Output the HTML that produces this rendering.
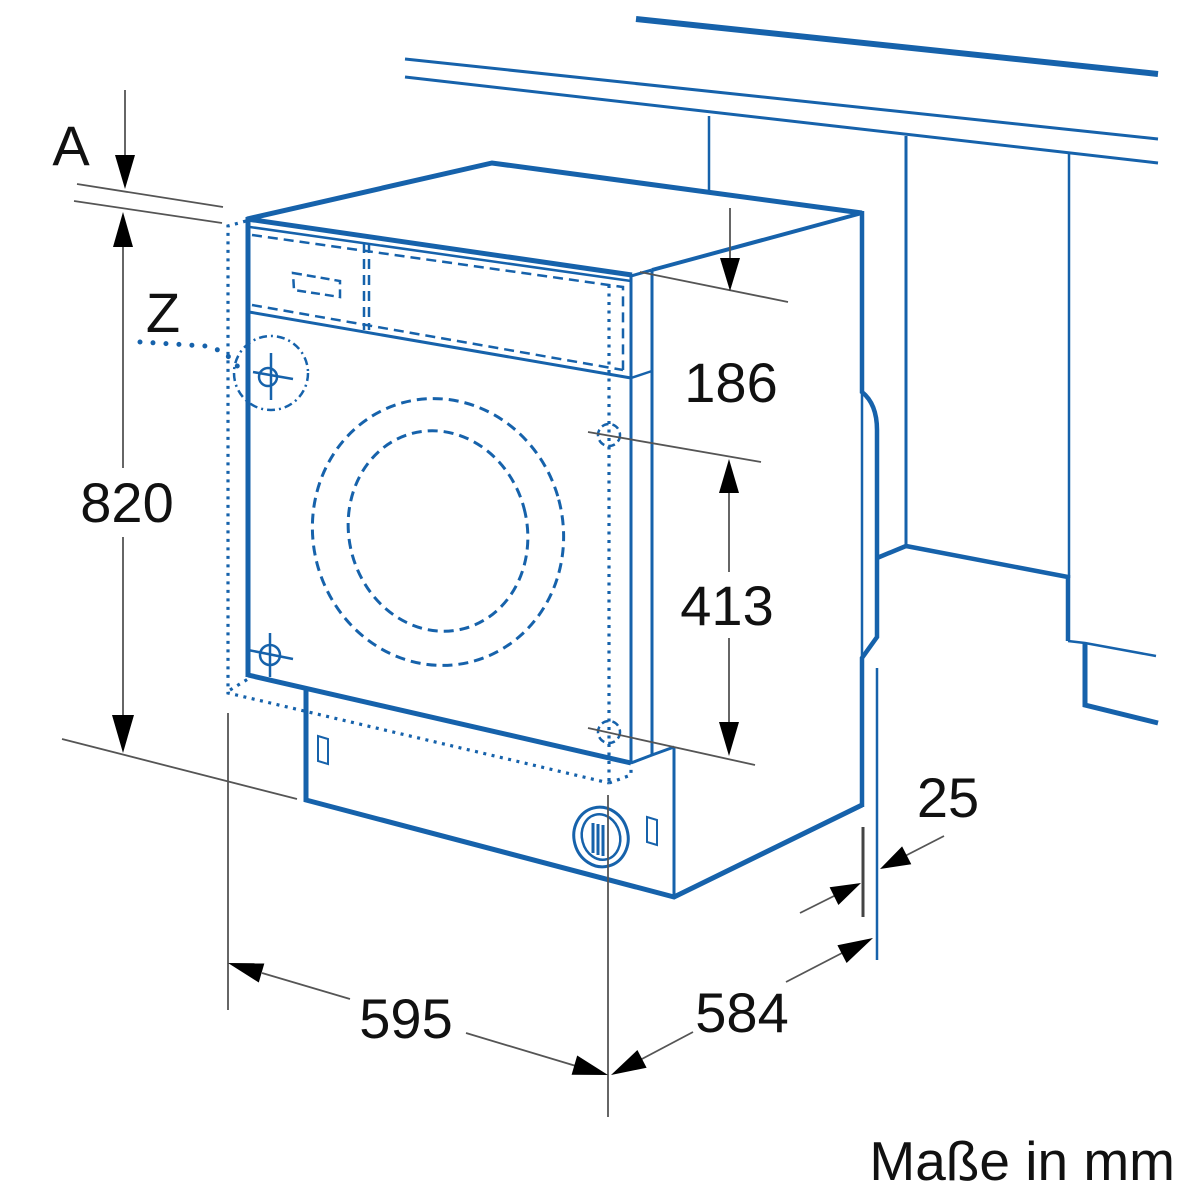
<!DOCTYPE html>
<html><head><meta charset="utf-8"><style>
html,body{margin:0;padding:0;background:#fff;}
svg{display:block;}
text{font-family:"Liberation Sans",Arial,sans-serif;fill:#111;}
</style></head><body>
<svg width="1200" height="1200" viewBox="0 0 1200 1200" xmlns="http://www.w3.org/2000/svg">
<rect width="1200" height="1200" fill="#fff"/>
<g fill="none" stroke="#1662ab" stroke-linejoin="miter" stroke-linecap="butt">
  <!-- top rails -->
  <line x1="636" y1="19" x2="1158" y2="74" stroke-width="6"/>
  <line x1="405" y1="59" x2="1158" y2="139" stroke-width="3"/>
  <line x1="405" y1="77" x2="1158" y2="163" stroke-width="3"/>
  <line x1="709" y1="116" x2="709" y2="192" stroke-width="2.5"/>
  <line x1="906" y1="136" x2="906" y2="547" stroke-width="3"/>
  <line x1="1069" y1="154" x2="1069" y2="578" stroke-width="2.5"/>
  <!-- right niche structure -->
  <polyline points="877,558 906,546 1068,577 1068,641" stroke-width="4.5"/>
  <polyline points="1068,641 1085,643 1156,656" stroke-width="2.5"/>
  <polyline points="1085,643 1085,705 1158,723" stroke-width="5"/>
  <line x1="877" y1="668" x2="877" y2="960" stroke-width="2.5"/>

  <!-- machine outline -->
  <polyline points="247,219 492,163 862,213" stroke-width="5"/>
  <line x1="862" y1="213" x2="652" y2="270" stroke-width="4"/>
  <line x1="652" y1="270" x2="631" y2="276" stroke-width="3"/>
  <line x1="247" y1="219" x2="632" y2="275" stroke-width="5"/>
  <line x1="250" y1="227" x2="631" y2="281" stroke-width="2.5"/>
  <path d="M862,211 L862,392 Q877,404 877,430 L877,637 L862,658 L862,807" stroke-width="4.5"/>
  <line x1="862" y1="392" x2="862" y2="658" stroke-width="2.5"/>
  <polyline points="862,805 674,897 306,800 306,688" stroke-width="5"/>
  <line x1="674" y1="747" x2="674" y2="897" stroke-width="3"/>
  <line x1="248" y1="217" x2="248" y2="677" stroke-width="5"/>
  <line x1="248" y1="675" x2="631" y2="763" stroke-width="5"/>
  <line x1="631" y1="276" x2="631" y2="764" stroke-width="3"/>
  <line x1="652" y1="270" x2="652" y2="755" stroke-width="3"/>
  <polyline points="631,763 652,755 674,747" stroke-width="3"/>
  <line x1="249" y1="312" x2="631" y2="378" stroke-width="3"/>
  <line x1="631" y1="378" x2="652" y2="371" stroke-width="2.5"/>

  <!-- dashed control panel -->
  <g stroke-width="2.5" stroke-dasharray="10 6">
    <polyline points="252,235 623,287 623,370"/>
    <line x1="252" y1="305" x2="623" y2="370"/>
    <line x1="364" y1="243" x2="364" y2="330"/>
    <line x1="369" y1="243" x2="369" y2="330"/>
    <polygon points="293,273 340,281 340,297 294,290" stroke-dasharray="9 5"/>
  </g>

  <!-- dotted niche outline -->
  <g stroke-width="3.2" stroke-dasharray="3 5.5">
    <polyline points="246,221 228,226 228,693 609,783"/>
    <line x1="230" y1="690" x2="248" y2="679"/>
    <line x1="609" y1="285" x2="609" y2="783"/>
    <polyline points="609,783 631,775 631,765"/>
  </g>

  <!-- door circles -->
  <ellipse cx="438" cy="532" rx="125" ry="134" transform="rotate(-15 438 532)" stroke-width="3" stroke-dasharray="10 6"/>
  <ellipse cx="438" cy="531" rx="89" ry="101" transform="rotate(-15 438 531)" stroke-width="3" stroke-dasharray="10 6"/>

  <!-- crosshairs -->
  <circle cx="271" cy="373" r="37" stroke-width="2.5" stroke-dasharray="8 4 2 4"/>
  <circle cx="268" cy="377" r="9" stroke-width="2.5"/>
  <line x1="253" y1="372" x2="293" y2="379" stroke-width="2.5"/>
  <line x1="271" y1="353" x2="271" y2="400" stroke-width="2.5"/>
  <circle cx="270" cy="655" r="10" stroke-width="2.5"/>
  <line x1="248" y1="650" x2="293" y2="659" stroke-width="2.5"/>
  <line x1="270" y1="633" x2="270" y2="677" stroke-width="2.5"/>
  <circle cx="609" cy="435" r="11" stroke-width="2.5" stroke-dasharray="7 4"/>
  <circle cx="609" cy="732" r="11" stroke-width="2.5" stroke-dasharray="7 4"/>

  <!-- base connector & slots -->
  <ellipse cx="601" cy="837" rx="27" ry="30" transform="rotate(-15 601 837)" stroke-width="3"/>
  <ellipse cx="601" cy="837" rx="19" ry="23" transform="rotate(-15 601 837)" stroke-width="2.5"/>
  <line x1="593" y1="823" x2="593" y2="853" stroke-width="3"/>
  <line x1="598" y1="824" x2="598" y2="855" stroke-width="3"/>
  <line x1="603" y1="825" x2="603" y2="856" stroke-width="3"/>
  <polygon points="318,736 328,739 328,764 318,761" stroke-width="2"/>
  <polygon points="647,817 657,820 657,845 647,842" stroke-width="2"/>

  <!-- Z leader -->
  <path d="M140,342 L205,346 Q226,350 238,367" stroke-width="5" stroke-linecap="round" stroke-dasharray="0 13"/>
</g>

<!-- dimension lines -->
<g stroke="#555" stroke-width="1.8" fill="none">
  <line x1="125" y1="90" x2="125" y2="160"/>
  <line x1="77" y1="184" x2="223" y2="207"/>
  <line x1="74" y1="201" x2="222" y2="223"/>
  <line x1="123" y1="245" x2="123" y2="468"/>
  <line x1="123" y1="537" x2="123" y2="717"/>
  <line x1="62" y1="739" x2="297" y2="799"/>
  <line x1="228" y1="713" x2="228" y2="1010"/>
  <line x1="608" y1="795" x2="608" y2="1117"/>
  <line x1="262" y1="973" x2="350" y2="999"/>
  <line x1="466" y1="1033" x2="576" y2="1066"/>
  <line x1="640" y1="1060" x2="693" y2="1032"/>
  <line x1="786" y1="982" x2="844" y2="952"/>
  <line x1="730" y1="208" x2="730" y2="260"/>
  <line x1="640" y1="272" x2="788" y2="302"/>
  <line x1="588" y1="432" x2="761" y2="462"/>
  <line x1="588" y1="728" x2="755" y2="765"/>
  <line x1="729" y1="490" x2="729" y2="572"/>
  <line x1="729" y1="638" x2="729" y2="725"/>
  <line x1="800" y1="913" x2="836" y2="895"/>
  <line x1="944" y1="836" x2="905" y2="856"/>
</g>
<line x1="863" y1="827" x2="863" y2="917" stroke="#444" stroke-width="3"/>

<!-- arrowheads -->
<g fill="#000" stroke="none">
  <polygon points="115,155 135,155 125,189"/>
  <polygon points="113,247 133,247 123,212"/>
  <polygon points="112,715 134,715 123,753"/>
  <polygon points="228,963 258.8,982.5 264.4,963.3"/>
  <polygon points="608,1075 571.6,1074.7 577.2,1055.5"/>
  <polygon points="611,1075 646.6,1067.7 637.4,1050"/>
  <polygon points="873,938 837.4,945.3 846.6,963"/>
  <polygon points="720,258 740,258 730,291"/>
  <polygon points="719,493 739,493 729,459"/>
  <polygon points="719,722 739,722 729,756"/>
  <polygon points="861,883 829.6,887.2 838.4,905"/>
  <polygon points="880,869 902.1,846.4 911.3,864.2"/>
</g>

<!-- labels -->
<g font-size="56">
  <text x="71" y="165" text-anchor="middle">A</text>
  <text x="163" y="332" text-anchor="middle">Z</text>
  <text x="127" y="522" text-anchor="middle">820</text>
  <text x="731" y="402" text-anchor="middle">186</text>
  <text x="727" y="625" text-anchor="middle">413</text>
  <text x="406" y="1038" text-anchor="middle">595</text>
  <text x="742" y="1032" text-anchor="middle">584</text>
  <text x="948" y="817" text-anchor="middle">25</text>
  <text x="1175" y="1180" text-anchor="end" font-size="55">Maße in mm</text>
</g>
</svg>
</body></html>
